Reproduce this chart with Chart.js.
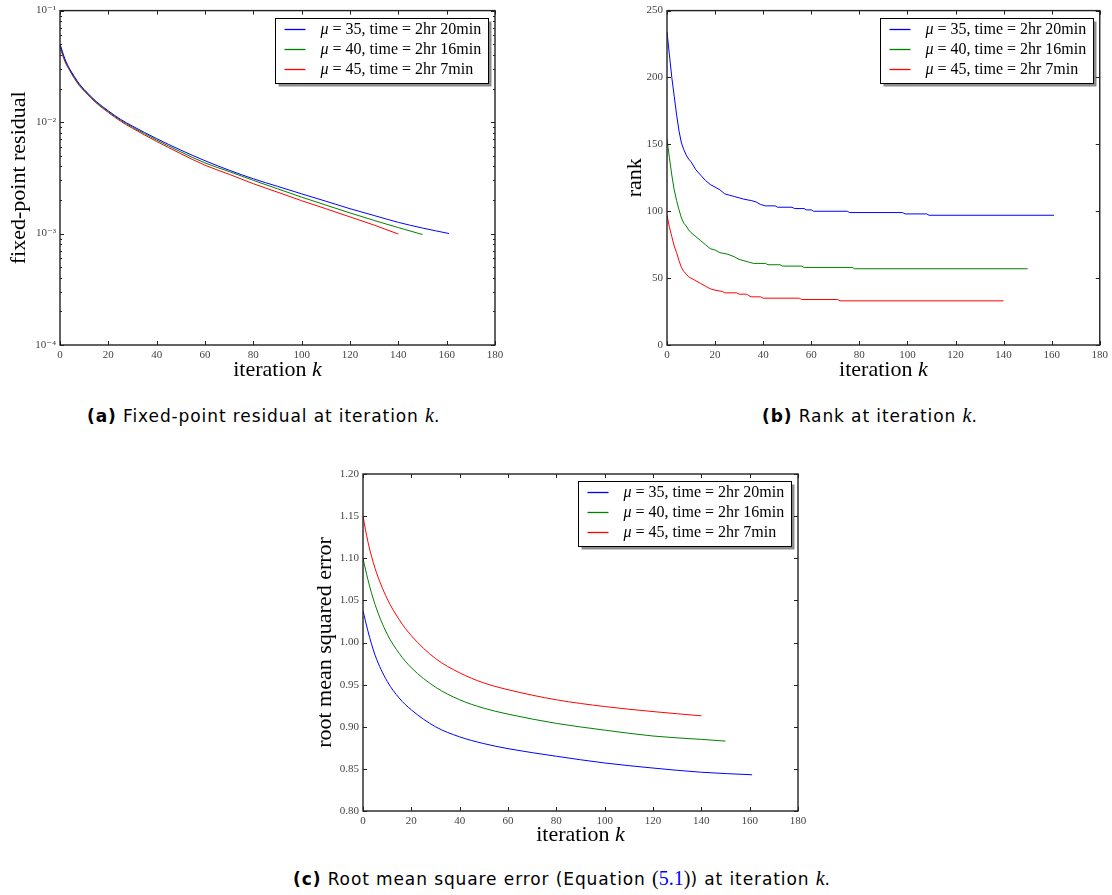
<!DOCTYPE html>
<html><head><meta charset="utf-8">
<script src="https://cdn.jsdelivr.net/npm/chart.js@4.4.1/dist/chart.umd.min.js"></script>
<style>
html,body{margin:0;padding:0;background:#fff;}
body{width:1112px;height:895px;position:relative;overflow:hidden;}
.panel{position:absolute;}
.cap{position:absolute;font-family:'DejaVu Sans',sans-serif;font-size:17px;letter-spacing:0.9px;color:#000;white-space:nowrap;line-height:18px;}
.m{font-family:'Liberation Serif',serif;font-style:italic;font-size:20px;letter-spacing:0;}
.n{font-family:'Liberation Serif',serif;font-size:20px;letter-spacing:0;}
.blue{color:#0000ff;}
</style></head>
<body>
<div class="panel" style="left:0;top:0;width:520px;height:390px"><canvas id="ca"></canvas></div>
<div class="panel" style="left:600px;top:0;width:512px;height:390px"><canvas id="cb"></canvas></div>
<div class="panel" style="left:300px;top:460px;width:520px;height:400px"><canvas id="cc"></canvas></div>
<div class="cap" style="left:87px;top:406px"><b>(a)</b> Fixed-point residual at iteration <span class="m">k</span>.</div>
<div class="cap" style="left:762px;top:406px"><b>(b)</b> Rank at iteration <span class="m">k</span>.</div>
<div class="cap" style="left:293px;top:869px"><b>(c)</b> Root mean square error (Equation <span class="n">(</span><span class="n blue">5.1</span><span class="n">)</span>) at iteration <span class="m">k</span>.</div>
<script>
// ---------- data ----------
const seriesLabels = ['μ = 35, time = 2hr 20min', 'μ = 40, time = 2hr 16min', 'μ = 45, time = 2hr 7min'];
const seriesColors = ['#0000ff', '#008000', '#ff0000'];
const xTickValues = [0, 20, 40, 60, 80, 100, 120, 140, 160, 180];

// (a) fixed-point residual
const residualK35 = [0,2,4,6,8,10,15,20,25,30,40,50,60,70,80,90,100,110,120,130,140,150,161];
const residual35 = [0.050,0.037,0.030,0.0255,0.022,0.0196,0.0153,0.0126,0.0106,0.0092,0.0071,0.0056,0.0045,0.0037,0.0031,0.00265,0.00227,0.00195,0.00167,0.00145,0.00126,0.00112,0.00100];
const residualK40 = [0,2,4,6,8,10,15,20,25,30,40,50,60,70,80,90,100,110,120,130,140,150];
const residual40 = [0.049,0.036,0.0295,0.025,0.0216,0.0193,0.0150,0.0124,0.0104,0.0090,0.0069,0.0054,0.0043,0.0036,0.0030,0.00252,0.00212,0.00180,0.00153,0.00131,0.00113,0.00098];
const residualK45 = [0,2,4,6,8,10,15,20,25,30,40,50,60,70,80,90,100,110,120,130,140];
const residual45 = [0.047,0.035,0.029,0.0245,0.0212,0.019,0.0148,0.0122,0.0102,0.0088,0.0067,0.0052,0.0041,0.0034,0.0028,0.00235,0.00197,0.00167,0.00141,0.00119,0.00099];
const residualTickValues = [1e-4, 1e-3, 1e-2, 1e-1];
const residualTickLabels = ['10⁻⁴', '10⁻³', '10⁻²', '10⁻¹'];

// (b) rank
const rankK35 = [0,1,2,3,4,5,6,7,8,9,10,12,14,16,18,20,22,24,26,28,30,32,35,37,39,41,45,46,52,53,57,58,60,61,75,76,98,99,108,109,161];
const rank35 = [234,217,200,186,172,160,151,146,142,139,137,131,127,123,120,118,116,113,112,111,110,109,108,107,105,104,104,103,103,102,102,101,101,100,100,99,99,98,98,97,97];
const rankK40 = [0,1,2,3,4,5,6,7,8,9,10,12,14,16,18,20,22,25,28,30,32,34,36,41,42,47,48,56,57,77,78,150];
const rank40 = [154,140,127,116,108,101,95,91,89,86,84,81,78,75,72,71,69,68,66,64,63,62,61,61,60,60,59,59,58,58,57,57];
const rankK45 = [0,1,2,3,4,5,6,7,8,9,10,12,14,16,18,20,23,24,29,30,33,34,35,39,40,55,56,71,72,140];
const rank45 = [97,88,81,74,69,63,58,55,53,51,50,48,46,44,42,41,40,39,39,38,38,37,36,36,35,35,34,34,33,33];
const rankTickValues = [0, 50, 100, 150, 200, 250];
const rankTickLabels = ['0', '50', '100', '150', '200', '250'];

// (c) root mean squared error
const rmseK35 = [0,2,5,10,15,20,30,40,50,60,80,100,120,140,161];
const rmse35 = [1.038,1.014,0.985,0.954,0.934,0.920,0.900,0.888,0.880,0.874,0.865,0.857,0.851,0.846,0.843];
const rmseK40 = [0,2,5,10,15,20,30,40,50,60,80,100,120,140,150];
const rmse40 = [1.100,1.075,1.045,1.010,0.987,0.970,0.947,0.932,0.922,0.915,0.904,0.896,0.889,0.885,0.883];
const rmseK45 = [0,2,5,10,15,20,30,40,50,60,80,100,120,140];
const rmse45 = [1.150,1.120,1.088,1.052,1.027,1.008,0.981,0.964,0.952,0.944,0.932,0.924,0.918,0.913];
const rmseTickValues = [0.80, 0.85, 0.90, 0.95, 1.00, 1.05, 1.10, 1.15, 1.20];
const rmseTickLabels = ['0.80', '0.85', '0.90', '0.95', '1.00', '1.05', '1.10', '1.15', '1.20'];

// ---------- rendering ----------
const SERIF = "'Liberation Serif', 'DejaVu Serif', serif";
const TITLE_SIZE = 22;

const mplPlugin = {
  id: 'mplFrame',
  afterDatasetsDraw(chart, args, opts) {
    const { ctx, chartArea: a } = chart;
    const x = chart.scales.x, y = chart.scales.y;
    ctx.save();
    ctx.strokeStyle = '#222';
    ctx.lineWidth = 1;
    ctx.beginPath();
    x.ticks.forEach(t => {
      const px = Math.round(x.getPixelForValue(t.value)) + 0.5;
      ctx.moveTo(px, a.bottom); ctx.lineTo(px, a.bottom - 4);
      ctx.moveTo(px, a.top); ctx.lineTo(px, a.top + 4);
    });
    y.ticks.forEach(t => {
      const py = Math.round(y.getPixelForValue(t.value)) + 0.5;
      ctx.moveTo(a.left, py); ctx.lineTo(a.left + 4, py);
      ctx.moveTo(a.right, py); ctx.lineTo(a.right - 4, py);
    });
    if (opts.minorLog) {
      for (let i = 0; i < y.ticks.length - 1; i++) {
        const base = y.ticks[i].value;
        for (let m = 2; m <= 9; m++) {
          const py = Math.round(y.getPixelForValue(base * m)) + 0.5;
          ctx.moveTo(a.left, py); ctx.lineTo(a.left + 2, py);
          ctx.moveTo(a.right, py); ctx.lineTo(a.right - 2, py);
        }
      }
    }
    ctx.stroke();
    ctx.lineWidth = 1.4;
    ctx.strokeRect(a.left, a.top, a.right - a.left, a.bottom - a.top);

    // x axis title with italic k
    ctx.fillStyle = '#000';
    ctx.textBaseline = 'middle';
    ctx.font = TITLE_SIZE + 'px ' + SERIF;
    const t1 = 'iteration ';
    const w1 = ctx.measureText(t1).width;
    ctx.font = 'italic ' + TITLE_SIZE + 'px ' + SERIF;
    const w2 = ctx.measureText('k').width;
    const cx = (a.left + a.right) / 2;
    const ty = a.bottom + opts.xTitleOffset;
    const sx = cx - (w1 + w2) / 2;
    ctx.font = TITLE_SIZE + 'px ' + SERIF;
    ctx.textAlign = 'left';
    ctx.fillText(t1, sx, ty);
    ctx.font = 'italic ' + TITLE_SIZE + 'px ' + SERIF;
    ctx.fillText('k', sx + w1, ty);

    // legend box
    const fs = 16;
    let maxW = 0;
    chart.data.datasets.forEach(d => {
      ctx.font = 'italic ' + fs + 'px ' + SERIF;
      let w = ctx.measureText(d.label[0]).width;
      ctx.font = fs + 'px ' + SERIF;
      w += ctx.measureText(d.label.slice(1)).width;
      maxW = Math.max(maxW, w);
    });
    const bw = Math.round(maxW + 52), bh = 65;
    const bx = Math.round(a.right - 7 - bw) + 0.5, by = Math.round(a.top + 7) + 0.5;
    ctx.fillStyle = 'rgba(0,0,0,0.45)';
    ctx.fillRect(bx + 3, by + 3, bw, bh);
    ctx.fillStyle = '#fff';
    ctx.fillRect(bx, by, bw, bh);
    ctx.strokeStyle = '#000';
    ctx.lineWidth = 1;
    ctx.strokeRect(bx, by, bw, bh);
    chart.data.datasets.forEach((d, i) => {
      const ry = by + 11 + i * 20;
      ctx.strokeStyle = d.borderColor;
      ctx.lineWidth = 1.3;
      ctx.beginPath();
      ctx.moveTo(bx + 9, ry); ctx.lineTo(bx + 30, ry);
      ctx.stroke();
      ctx.fillStyle = '#000';
      ctx.textBaseline = 'middle';
      ctx.font = 'italic ' + fs + 'px ' + SERIF;
      ctx.fillText(d.label[0], bx + 45, ry);
      const wm = ctx.measureText(d.label[0]).width;
      ctx.font = fs + 'px ' + SERIF;
      ctx.fillText(d.label.slice(1), bx + 45 + wm, ry);
    });
    ctx.restore();
  }
};

function makeDatasets(ks, vals, smooth) {
  return ks.map((k, i) => ({
    label: seriesLabels[i],
    data: k.map((kk, j) => ({ x: kk, y: vals[i][j] })),
    borderColor: seriesColors[i],
    backgroundColor: seriesColors[i],
    borderWidth: 1,
    pointRadius: 0,
    fill: false,
    tension: smooth ? 0.4 : 0,
    cubicInterpolationMode: smooth ? 'monotone' : 'default'
  }));
}

function makeChart(id, cfg) {
  return new Chart(document.getElementById(id), {
    type: 'line',
    data: { datasets: cfg.datasets },
    plugins: [mplPlugin],
    options: {
      responsive: true,
      maintainAspectRatio: false,
      animation: false,
      events: [],
      layout: { padding: cfg.padding },
      plugins: {
        legend: { display: false },
        tooltip: { enabled: false },
        mplFrame: { minorLog: cfg.minorLog, xTitleOffset: cfg.xTitleOffset }
      },
      scales: {
        x: {
          type: 'linear', min: 0, max: 180,
          afterBuildTicks: s => { s.ticks = xTickValues.map(v => ({ value: v })); },
          afterFit: s => { s.height = cfg.xHeight; },
          grid: { display: false, drawTicks: false },
          border: { display: false },
          ticks: { font: { family: SERIF, size: 11 }, color: '#444', padding: 4, maxRotation: 0, autoSkip: false, callback: v => String(v) }
        },
        y: {
          type: cfg.yType, min: cfg.yMin, max: cfg.yMax,
          afterBuildTicks: s => { s.ticks = cfg.yTicks.map(v => ({ value: v })); },
          afterFit: s => { s.width = cfg.yWidth; },
          grid: { display: false, drawTicks: false },
          border: { display: false },
          ticks: {
            font: { family: SERIF, size: 11 }, color: '#444', padding: 4, autoSkip: false,
            callback: (v, i) => cfg.yLabels[i]
          },
          title: {
            display: true, text: cfg.yTitle, color: '#000',
            font: { family: SERIF, size: TITLE_SIZE, lineHeight: 1 },
            padding: { top: cfg.yTitlePad, bottom: 0 }
          }
        }
      }
    }
  });
}

makeChart('ca', {
  datasets: makeDatasets([residualK35, residualK40, residualK45], [residual35, residual40, residual45], true),
  padding: { left: 0, top: 9, right: 25, bottom: 0 },
  xHeight: 45, yWidth: 60, xTitleOffset: 25,
  yType: 'logarithmic', yMin: 1e-4, yMax: 1e-1,
  yTicks: residualTickValues, yLabels: residualTickLabels,
  yTitle: 'fixed-point residual', yTitlePad: 8, minorLog: true
});

makeChart('cb', {
  datasets: makeDatasets([rankK35, rankK40, rankK45], [rank35, rank40, rank45], false),
  padding: { left: 0, top: 9, right: 10, bottom: 0 },
  xHeight: 45, yWidth: 67, xTitleOffset: 25,
  yType: 'linear', yMin: 0, yMax: 250,
  yTicks: rankTickValues, yLabels: rankTickLabels,
  yTitle: 'rank', yTitlePad: 24, minorLog: false
});

makeChart('cc', {
  datasets: makeDatasets([rmseK35, rmseK40, rmseK45], [rmse35, rmse40, rmse45], true),
  padding: { left: 0, top: 14, right: 22, bottom: 0 },
  xHeight: 49, yWidth: 63, xTitleOffset: 24,
  yType: 'linear', yMin: 0.80, yMax: 1.20,
  yTicks: rmseTickValues, yLabels: rmseTickLabels,
  yTitle: 'root mean squared error', yTitlePad: 14, minorLog: false
});
</script>
</body></html>
